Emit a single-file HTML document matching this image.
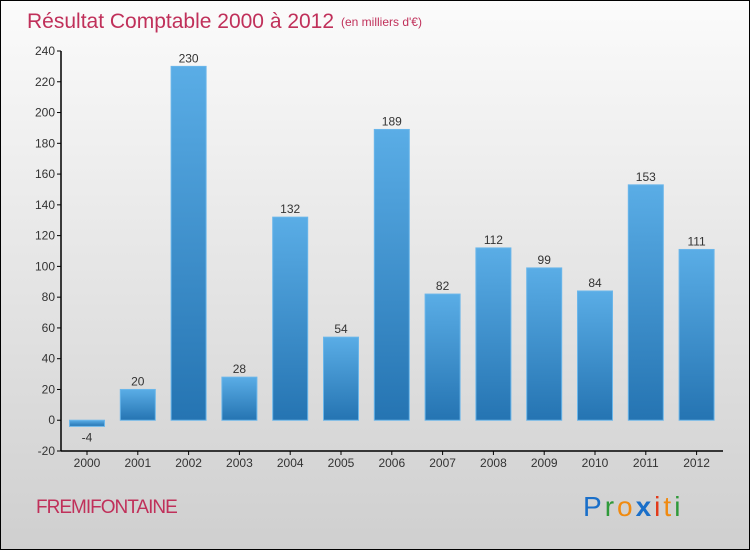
<!DOCTYPE html>
<html><head><meta charset="utf-8"><style>
body{margin:0;}
#c{position:relative;width:748px;height:548px;border:1px solid #000;background:linear-gradient(#fbfbfb,#cfcfcf);font-family:"Liberation Sans",sans-serif;overflow:hidden}
svg{position:absolute;left:0;top:0}
</style></head><body>
<div id="c">
<svg id="s" width="748" height="548">
<defs>
<linearGradient id="g" x1="0" y1="0" x2="0" y2="1"><stop offset="0" stop-color="#5aade6"/><stop offset="1" stop-color="#2574b2"/></linearGradient>
</defs>
<text x="26" y="27" font-size="21" fill="#c0305a">Résultat Comptable 2000 à 2012</text>
<text x="340" y="25" font-size="12" fill="#c0305a">(en milliers d'€)</text>
<text x="35" y="512" font-size="19" fill="#c0305a" letter-spacing="-1">FREMIFONTAINE</text>
<text x="582" y="515" font-size="28" letter-spacing="3" font-family="Liberation Sans, sans-serif"><tspan fill="#1a6fc9">P</tspan><tspan fill="#2f9a3a">r</tspan><tspan fill="#f08a10">o</tspan><tspan fill="#1a6fc9" font-weight="bold">x</tspan><tspan fill="#e23a1a">i</tspan><tspan fill="#f08a10">t</tspan><tspan fill="#2f9a3a">i</tspan></text>
<g id="plot"></g>
</svg>
</div>
<script>
const years=["2000","2001","2002","2003","2004","2005","2006","2007","2008","2009","2010","2011","2012"];
const values=[-4,20,230,28,132,54,189,82,112,99,84,153,111];
const yTicks=[-20,0,20,40,60,80,100,120,140,160,180,200,220,240];
const NS="http://www.w3.org/2000/svg";
const g=document.getElementById('plot');
const y0=450,yTop=50,vMin=-20,vMax=240;
const y=v=>y0-(v-vMin)*(y0-yTop)/(vMax-vMin);
const x=i=>86+i*50.8;
function mk(t,a){const e=document.createElementNS(NS,t);for(const k in a)e.setAttribute(k,a[k]);g.appendChild(e);return e;}
let e=mk('line',{x1:60,y1:y0,x2:722,y2:y0,stroke:'#000','stroke-width':1.5});


e=mk('line',{x1:60,y1:yTop,x2:60,y2:y0,stroke:'#000','stroke-width':1.5});


yTicks.forEach(t=>{
 let l=mk('line',{x1:56,y1:y(t),x2:60,y2:y(t),stroke:'#000'});
 
 
 let tx=mk('text',{x:54,y:y(t)+4,'font-size':12,'text-anchor':'end',fill:'#333'});
 tx.textContent=t;
 
 
});
years.forEach((yr,i)=>{
 const v=values[i],cx=x(i);
 let l=mk('line',{x1:cx,y1:y0,x2:cx,y2:y0+4,stroke:'#000'});
 
 
 let tx=mk('text',{x:cx,y:y0+16,'font-size':12,'text-anchor':'middle',fill:'#333'});
 tx.textContent=yr;
 
 
 const top=Math.min(y(v),y(0)),h=Math.abs(y(v)-y(0));
 let r=mk('rect',{x:cx-17.5,y:top,width:35,height:h,fill:'url(#g)',stroke:'#6ab6ea','stroke-width':1});
 
 
 let lb=mk('text',{x:cx,y:v>=0?y(v)-4:y(v)+15,'font-size':12,'text-anchor':'middle',fill:'#333'});
 lb.textContent=v;
 
 
});
</script>
</body></html>
